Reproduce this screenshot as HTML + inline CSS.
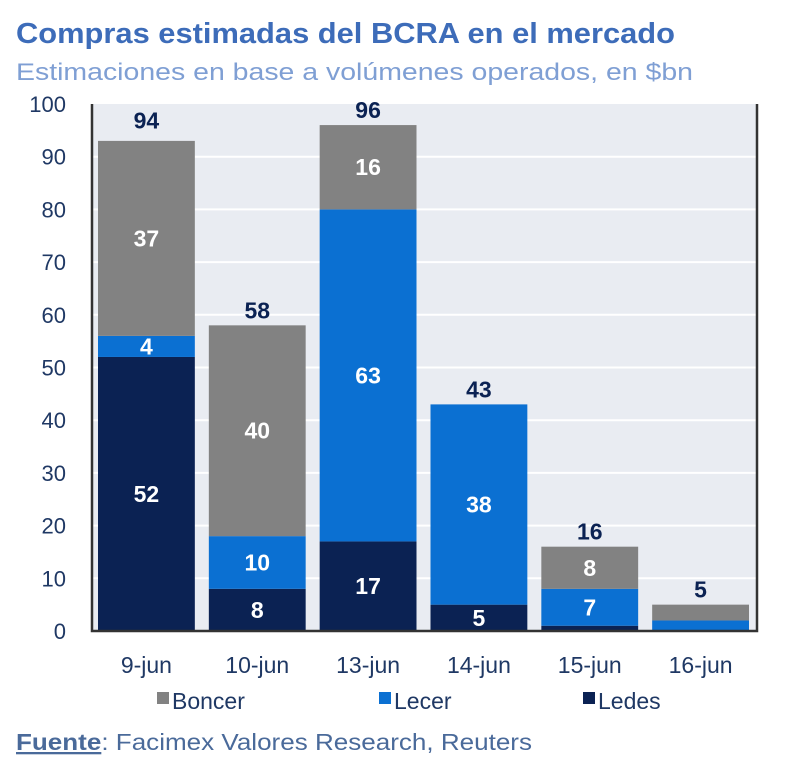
<!DOCTYPE html>
<html><head><meta charset="utf-8"><style>
body{margin:0;background:#fff;width:800px;height:766px;overflow:hidden;font-family:"Liberation Sans",sans-serif}
</style></head><body>
<svg id="c" width="800" height="766" style="position:absolute;left:0;top:0;font-family:'Liberation Sans',sans-serif">
<text x="16" y="43" font-size="29" font-weight="bold" fill="#3d6cb9" textLength="659" lengthAdjust="spacingAndGlyphs">Compras estimadas del BCRA en el mercado</text>
<text x="16" y="80" font-size="24" fill="#7f9fd4" textLength="677" lengthAdjust="spacingAndGlyphs">Estimaciones en base a volúmenes operados, en $bn</text>
<text x="16" y="750" font-size="23" fill="#4a6a9a" textLength="516" lengthAdjust="spacingAndGlyphs"><tspan font-weight="bold" text-decoration="underline">Fuente</tspan>: Facimex Valores Research, Reuters</text>
</svg>
<script>
const categories=["9-jun","10-jun","13-jun","14-jun","15-jun","16-jun"];
const ledes=[52,8,17,5,1,0];
const lecer=[4,10,63,38,7,2];
const boncer=[37,40,16,0,8,3];
const totals=[94,58,96,43,16,5];
const showLabels=[true,true,true,true,true,false];
const yTicks=[0,10,20,30,40,50,60,70,80,90,100];
const svg=document.getElementById('c');const NS='http://www.w3.org/2000/svg';
const L=92,R=757,T=104,B=631;
const y=v=>B-(v/100)*(B-T);
const band=(R-L)/categories.length;
const x=i=>L+i*band+6;const bw=band-14;
function el(t,a,txt){const e=document.createElementNS(NS,t);for(const k in a)e.setAttribute(k,a[k]);if(txt!==undefined)e.textContent=txt;svg.appendChild(e);return e;}
let bg=el('rect',{x:L,y:T,width:R-L,height:B-T,fill:'#e9ecf2'});


yTicks.forEach(v=>{
 if(v>0&&v<100){let g=el('line',{x1:L,x2:R,y1:y(v),y2:y(v),stroke:'#fff','stroke-width':2});
 
 }
 let t=el('text',{x:66,y:y(v)+8,'text-anchor':'end','font-size':22,fill:'#1f3864'},v);
 
 
});
const series=[[ledes,'#0b2253','ledes'],[lecer,'#0b70d2','lecer'],[boncer,'#828282','boncer']];
categories.forEach((c,i)=>{
 let base=0;
 series.forEach(([arr,col,nm])=>{
  const v=arr[i];if(v<=0)return;
  let r=el('rect',{x:x(i),y:y(base+v),width:bw,height:y(base)-y(base+v),fill:col});
  
  
  if(showLabels[i]&&v>=4){let t=el('text',{x:x(i)+bw/2,y:(y(base)+y(base+v))/2+8,'text-anchor':'middle','font-size':23,'font-weight':'bold',fill:'#fff'},v);
  
  }
  base+=v;
 });
 let tt=el('text',{x:x(i)+bw/2,y:y(Math.max(totals[i],base))-7,'text-anchor':'middle','font-size':23,'font-weight':'bold',fill:'#0b2253'},totals[i]);
 
 
 let xl=el('text',{x:x(i)+bw/2,y:673,'text-anchor':'middle','font-size':23,fill:'#1f3864'},c);
 
 
});
let fr=el('path',{d:`M${L} ${T}V${B}H${R}V${T}`,fill:'none',stroke:'#333','stroke-width':2.5});


const legend=[['Boncer','#828282',157],['Lecer','#0b70d2',379],['Ledes','#0b2253',583]];
legend.forEach(([n,c,lx])=>{
 let s=el('rect',{x:lx,y:692,width:12,height:12,fill:c});
 
 
 let t=el('text',{x:lx+15,y:709,'font-size':23,fill:'#1f3864'},n);
 
 
});
</script>
</body></html>
